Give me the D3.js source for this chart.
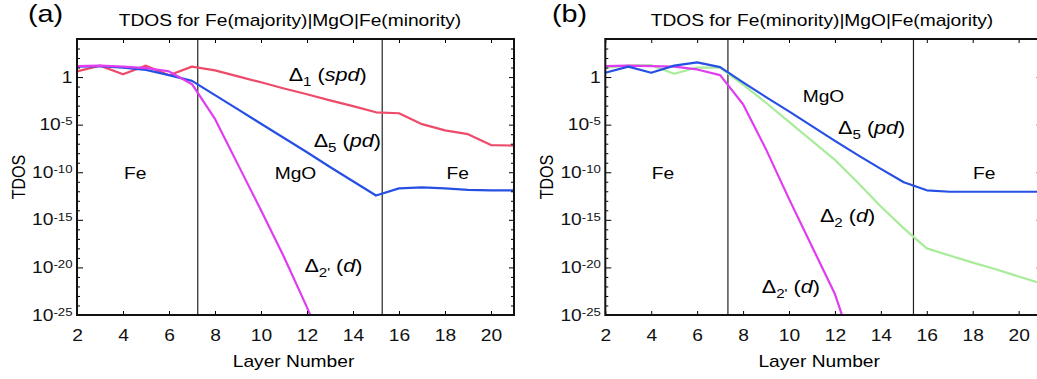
<!DOCTYPE html>
<html>
<head>
<meta charset="utf-8">
<script src="https://cdn.jsdelivr.net/npm/d3@7"></script>
<style>
  body { margin: 0; background: #fff; }
  svg { display: block; font-family: "Liberation Sans", Arial, Helvetica, sans-serif; }
</style>
</head>
<body>
<script>
// layer index on the x axis
const layers = [2, 3, 4, 5, 6, 7, 8, 9, 10, 11, 12, 13, 14, 15, 16, 17, 18, 19, 20, 21];
const xTicks = [2, 4, 6, 8, 10, 12, 14, 16, 18, 20];
const yDecades = [-25, -24, -23, -22, -21, -20, -19, -18, -17, -16, -15, -14, -13, -12, -11, -10,
  -9, -8, -7, -6, -5, -4, -3, -2, -1, 0, 1, 2, 3, 4];
const yMajor = [-25, -20, -15, -10, -5, 0];

// panel (a): log10(TDOS) per layer
const aSpd = [0.6, 1.2, 0.3, 1.2, 0.2, 1.1, 0.7, 0.07, -0.55, -1.2, -1.8, -2.45, -3.05, -3.7,
  -3.8, -4.95, -5.6, -6.0, -7.15, -7.2];
const aPd = [1.1, 1.15, 1.0, 0.75, 0.2, -0.4, -1.9, -3.4, -4.9, -6.4, -7.9, -9.45, -10.95, -12.45,
  -11.7, -11.6, -11.7, -11.85, -11.9, -11.9];
const aD2p = [1.15, 1.2, 1.1, 0.95, 0.6, -0.75, -4.4, -9.2, -14.0, -18.9, -24.2, -30];
const aBounds = [7.25, 15.27];

// panel (b)
const bPd = [0.45, 1.1, 0.45, 1.2, 1.55, 1.05, -0.55, -2.1, -3.6, -5.15, -6.7, -8.2, -9.65, -11.05,
  -11.9, -12.05, -12.05, -12.05, -12.05, -12.05];
const bD2 = [1.0, 1.2, 1.25, 0.35, 1.0, 1.0, -0.8, -2.7, -4.7, -6.7, -8.7, -11.1, -13.6, -15.9,
  -18.0, -18.75, -19.5, -20.2, -20.95, -21.7];
const bD2p = [1.15, 1.2, 1.15, 1.1, 0.8, 0.2, -2.85, -7.6, -12.8, -17.8, -22.8, -30];
const bBounds = [7.34, 15.42];

const RED = "#ee4a6a", BLUE = "#2650e4", MAG = "#e03cf0", GREEN = "#a8ec9a";
const SX = 1.2; // the figure is stretched horizontally

const svg = d3.select("body").append("svg")
  .attr("width", 1037)
  .attr("height", 379);

// rich text: parts = [[text, kind]] kind: sub | sup | it
const rich = (g, x, y, size, anchor, parts, rot) => {
  const t = g.append("text")
    .attr("transform", rot ? `translate(${x},${y}) rotate(-90) scale(1,${SX})`
                           : `translate(${x},${y}) scale(${SX},1)`)
    .attr("text-anchor", anchor)
    .style("font-size", size + "px");
  let shift = 0;
  parts.forEach(([s, kind]) => {
    const want = kind == "sub" ? 0.28 * size : kind == "sup" ? -0.42 * size : 0;
    const ts = t.append("tspan").text(s).attr("dy", want - shift);
    shift = want;
    if (kind == "sub" || kind == "sup") ts.style("font-size", (size * 0.7) + "px");
    if (kind == "it") ts.style("font-style", "italic");
  });
  return t;
};

const drawPanel = (o) => {
  const top = 39, bottom = 315;
  const x = d3.scaleLinear().domain([2, 21]).range([o.x0, o.x1]);
  const y = d3.scaleLog().domain([1e-25, 1e4]).range([bottom, top]);
  const g = svg.append("g");

  g.append("clipPath").attr("id", "clip-" + o.tag)
    .append("rect")
    .attr("x", o.x0).attr("y", top)
    .attr("width", o.x1 - o.x0).attr("height", bottom - top);

  // Headers
  rich(g, o.tagX, 21.5, 24, "start", [["(" + o.tag + ")"]]);
  rich(g, o.titleX, 26, 16, "middle", [[o.title]]);

  // region dividers
  g.selectAll(".divider")
    .data(o.bounds)
    .enter().append("line")
    .attr("x1", d => x(d)).attr("x2", d => x(d))
    .attr("y1", top).attr("y2", bottom)
    .attr("stroke", "#222").attr("stroke-width", 1.2);

  // curves
  const line = d3.line()
    .x((d, i) => x(layers[i]))
    .y(d => y(Math.pow(10, d)));
  g.append("g")
    .attr("clip-path", "url(#clip-" + o.tag + ")")
    .selectAll("path")
    .data(o.series)
    .enter().append("path")
    .attr("d", d => line(d.vals))
    .attr("fill", "none")
    .attr("stroke", d => d.color)
    .attr("stroke-width", 2.2)
    .attr("stroke-linejoin", "round");

  // axes, ticks pointing inward
  const tickVals = yDecades.map(e => Math.pow(10, e));
  const isMajor = d => yMajor.includes(Math.round(Math.log10(d)));

  g.append("g")
    .attr("transform", `translate(0,${bottom})`)
    .call(d3.axisBottom(x).tickValues(xTicks).tickSizeInner(-4).tickSizeOuter(0)
      .tickPadding(15).tickFormat(d3.format("d")))
    .call(a => a.select(".domain").remove())
    .call(a => a.selectAll("text").attr("transform", `scale(${SX},1)`)
      .style("font-size", "16px").attr("fill", "#111"));

  g.append("g")
    .attr("transform", `translate(0,${top})`)
    .call(d3.axisTop(x).tickValues(xTicks).tickSizeInner(-4).tickSizeOuter(0).tickFormat(""))
    .call(a => a.select(".domain").remove());

  g.append("g")
    .attr("transform", `translate(${o.x0},0)`)
    .call(d3.axisLeft(y).tickValues(tickVals).tickSizeInner(-3).tickSizeOuter(0).tickFormat(""))
    .call(a => a.select(".domain").remove())
    .call(a => a.selectAll(".tick line").filter(isMajor).attr("x2", 6));

  g.append("g")
    .attr("transform", `translate(${o.x1},0)`)
    .call(d3.axisRight(y).tickValues(tickVals).tickSizeInner(-3).tickSizeOuter(0).tickFormat(""))
    .call(a => a.select(".domain").remove())
    .call(a => a.selectAll(".tick line").filter(isMajor).attr("x2", -5));

  // y tick labels 10^n
  g.append("g")
    .attr("transform", `translate(${o.x0},0)`)
    .call(d3.axisLeft(y).tickValues(yMajor.map(e => Math.pow(10, e))).tickSize(0)
      .tickPadding(4.5).tickFormat(""))
    .call(a => a.select(".domain").remove())
    .call(a => a.selectAll("text")
      .attr("transform", `scale(${SX},1)`)
      .attr("x", -4.5 / SX)
      .attr("fill", "#111")
      .style("font-size", "16px")
      .each(function (d) {
        const e = Math.round(Math.log10(d));
        const t = d3.select(this);
        if (e == 0) { t.text("1"); return; }
        t.append("tspan").text("10");
        t.append("tspan").text(e).attr("dy", "-0.45em").style("font-size", "11px");
      }));

  // frame
  g.append("rect")
    .attr("x", o.x0).attr("y", top)
    .attr("width", o.x1 - o.x0).attr("height", bottom - top)
    .attr("fill", "none").attr("stroke", "#111").attr("stroke-width", 2);

  // axis titles
  rich(g, (o.x0 + Math.min(o.x1, 1037)) / 2 - 2, 367, 16, "middle", [["Layer Number"]]);
  rich(g, o.x0 - 52, 177, 16, "middle", [["TDOS"]], true);

  // annotations
  o.notes.forEach(n => {
    rich(g, x(n.at[0]), y(Math.pow(10, n.at[1])), n.size, "middle", n.parts);
  });
};

drawPanel({
  tag: "a", tagX: 28, titleX: 290, x0: 77, x1: 514,
  title: "TDOS for Fe(majority)|MgO|Fe(minority)",
  bounds: aBounds,
  series: [
    { vals: aSpd, color: RED },
    { vals: aPd, color: BLUE },
    { vals: aD2p, color: MAG }
  ],
  notes: [
    { at: [12.9, -0.37], size: 18, parts: [["Δ"], ["1", "sub"], [" ("], ["spd", "it"], [")"]] },
    { at: [13.75, -7.3], size: 18, parts: [["Δ"], ["5", "sub"], [" ("], ["pd", "it"], [")"]] },
    { at: [13.15, -20.5], size: 18, parts: [["Δ"], ["2'", "sub"], [" ("], ["d", "it"], [")"]] },
    { at: [4.53, -10.66], size: 16, parts: [["Fe"]] },
    { at: [11.5, -10.66], size: 16, parts: [["MgO"]] },
    { at: [18.55, -10.66], size: 16, parts: [["Fe"]] }
  ]
});

drawPanel({
  tag: "b", tagX: 552, titleX: 822, x0: 605.3, x1: 1041.6,
  title: "TDOS for Fe(minority)|MgO|Fe(majority)",
  bounds: bBounds,
  series: [
    { vals: bD2, color: GREEN },
    { vals: bD2p, color: MAG },
    { vals: bPd, color: BLUE }
  ],
  notes: [
    { at: [11.5, -2.57], size: 16, parts: [["MgO"]] },
    { at: [13.6, -6.0], size: 18, parts: [["Δ"], ["5", "sub"], [" ("], ["pd", "it"], [")"]] },
    { at: [12.55, -15.2], size: 18, parts: [["Δ"], ["2", "sub"], [" ("], ["d", "it"], [")"]] },
    { at: [10.08, -22.7], size: 18, parts: [["Δ"], ["2'", "sub"], [" ("], ["d", "it"], [")"]] },
    { at: [4.51, -10.66], size: 16, parts: [["Fe"]] },
    { at: [18.5, -10.66], size: 16, parts: [["Fe"]] }
  ]
});
</script>
</body>
</html>
